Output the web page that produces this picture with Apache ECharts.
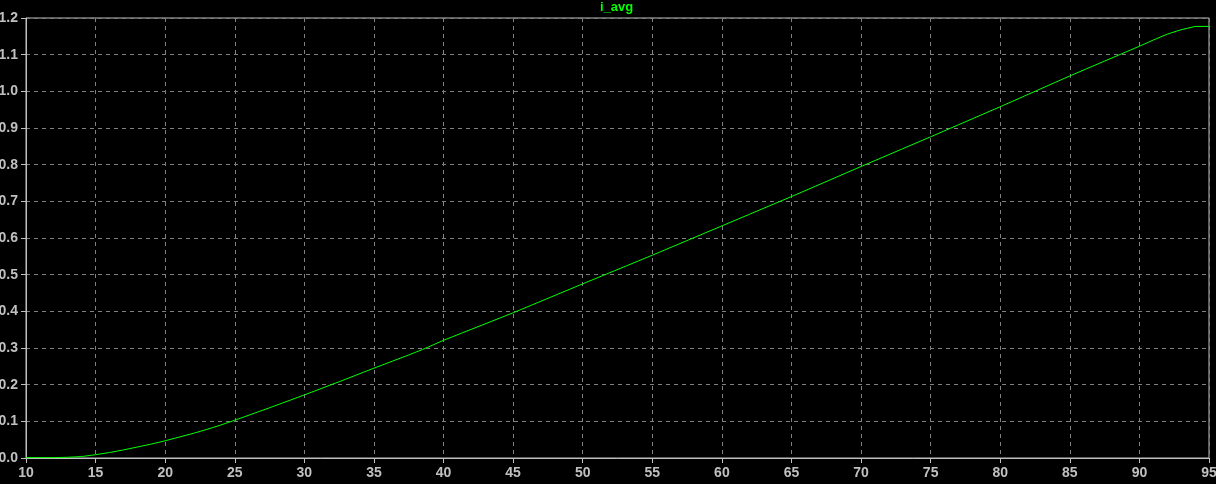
<!DOCTYPE html>
<html>
<head>
<meta charset="utf-8">
<script src="https://cdn.jsdelivr.net/npm/echarts@6/dist/echarts.min.js"></script>
<style>html,body{margin:0;padding:0;background:#000;}#c{width:1216px;height:484px;}</style>
</head>
<body>
<div id="c"></div>
<script>
const xValues = [10, 12, 13, 14, 15, 16, 17, 18, 19, 20, 21, 22, 23, 24, 25, 27.5, 30, 32.5, 35, 37.5, 38.5, 40, 45, 50, 55, 60, 65, 70, 75, 80, 85, 90, 91, 92, 93, 94, 95];
const iAvg    = [0.001, 0.001, 0.002, 0.004, 0.009, 0.015, 0.022, 0.030, 0.038, 0.047, 0.057, 0.067, 0.078, 0.090, 0.103, 0.137, 0.172, 0.208, 0.245, 0.281, 0.296, 0.321, 0.396, 0.475, 0.553, 0.633, 0.713, 0.795, 0.876, 0.958, 1.042, 1.123, 1.140, 1.156, 1.168, 1.177, 1.177];
const seriesName = 'i_avg';

const chart = echarts.init(document.getElementById('c'), null, {renderer: 'canvas'});
const labelStyle = {color: '#c0c0c0', fontFamily: '"Liberation Sans Narrow", "Liberation Sans", Arial, sans-serif', fontWeight: 'bold', fontSize: 14};
chart.setOption({
  backgroundColor: '#000000',
  animation: false,
  title: {
    text: seriesName, left: 600, top: 1, padding: 0,
    textStyle: {color: '#00ff00', fontSize: 13, fontWeight: 'bold', fontFamily: '"Liberation Sans", Arial, sans-serif'}
  },
  grid: {left: 26, right: 7, top: 18, bottom: 26, containLabel: false, outerBoundsMode: 'none', show: true, borderColor: '#c0c0c0', borderWidth: 1, backgroundColor: 'transparent'},
  xAxis: {
    type: 'value', min: 10, max: 95, interval: 5,
    axisLine: {show: true, lineStyle: {color: '#c0c0c0', width: 1}},
    axisTick: {show: true, length: 5, lineStyle: {color: '#c0c0c0'}},
    axisLabel: Object.assign({margin: 8, hideOverlap: false}, labelStyle),
    splitLine: {show: true, lineStyle: {color: '#808080', type: [4, 4], width: 1}}
  },
  yAxis: {
    type: 'value', min: 0, max: 1.2, interval: 0.1,
    axisLine: {show: true, lineStyle: {color: '#c0c0c0', width: 1}},
    axisTick: {show: true, length: 5, lineStyle: {color: '#c0c0c0'}},
    axisLabel: Object.assign({margin: 8, formatter: v => v.toFixed(1)}, labelStyle),
    splitLine: {show: true, lineStyle: {color: '#808080', type: [4, 4], width: 1}}
  },
  series: [{
    name: seriesName, type: 'line', showSymbol: false, smooth: false,
    data: xValues.map((x, i) => [x, iAvg[i]]),
    lineStyle: {color: '#00ff00', width: 1},
    itemStyle: {color: '#00ff00'}
  }]
});
</script>
</body>
</html>
